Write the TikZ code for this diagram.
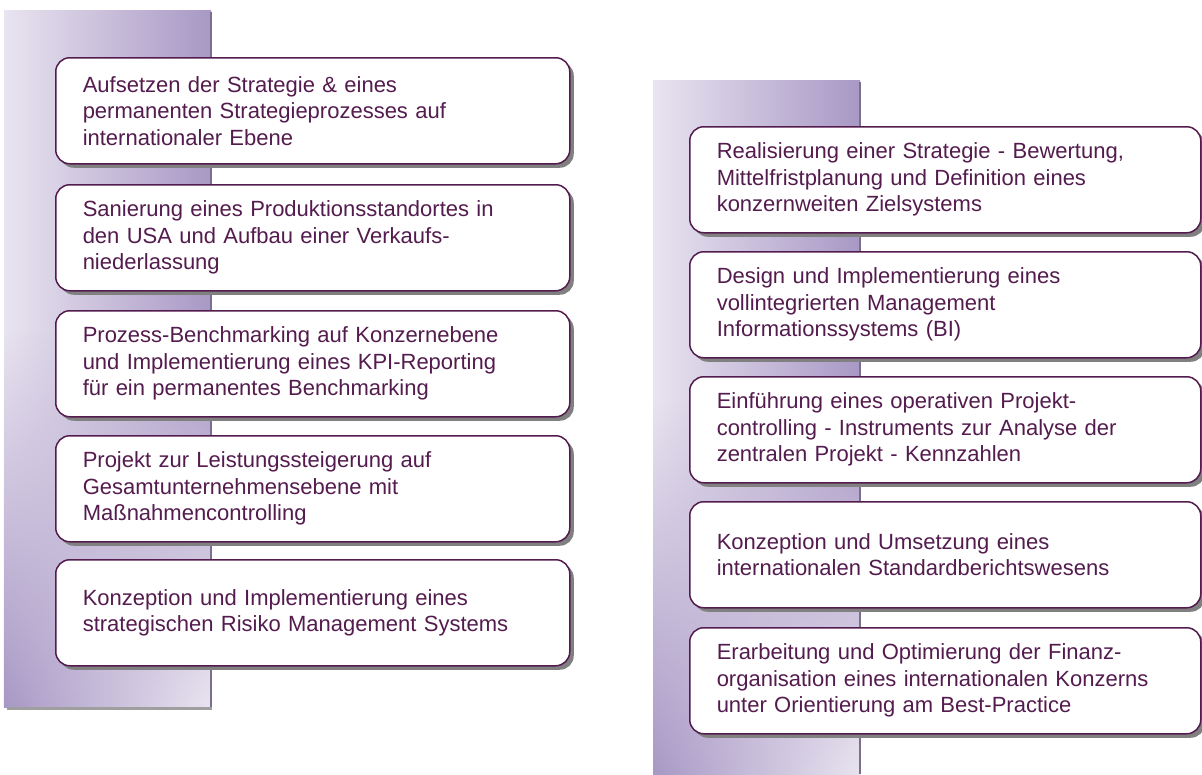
\documentclass[tikz,border=0pt]{standalone}
\usepackage{fontspec}
\setmainfont{Liberation Sans}
\usetikzlibrary{shadows,fadings}
\definecolor{ink}{RGB}{84,28,78}
\definecolor{barL}{RGB}{233,228,240}
\definecolor{barD}{RGB}{168,152,197}
\definecolor{barEdge}{RGB}{120,112,140}
\definecolor{shadowgray}{RGB}{128,128,128}
\tikzfading[name=fadeup, top color=transparent!100, bottom color=transparent!0]
\begin{document}
\begin{tikzpicture}[x=1pt,y=-1pt,
  itembox/.style={draw=ink, line width=1.5pt, fill=white, rounded corners=14pt,
    drop shadow={shadow xshift=4pt, shadow yshift=-4pt, fill=shadowgray, opacity=1},
    text=ink, font=\fontsize{22}{26.5}\selectfont, align=left, anchor=north west,
    inner xsep=27pt, inner ysep=0pt, minimum height=106pt},
  leftbox/.style={itembox, minimum width=514pt, text width=460pt},
  rightbox/.style={itembox, minimum width=511pt, text width=457pt},
]
\useasboundingbox (0,0) rectangle (1202,774);
% left bar
\shade[left color=barL, right color=barD] (4,10) rectangle (211,707);
\shade[left color=barD, right color=barL, path fading=fadeup] (4,330) rectangle (211,707);
\draw[barEdge, line width=1.5pt] (211,12) -- (211,708);
\draw[gray!75, line width=3pt] (7,708.5) -- (212,708.5);
% right bar
\shade[left color=barL, right color=barD] (653,80) rectangle (860,774);
\shade[left color=barD, right color=barL, path fading=fadeup] (653,400) rectangle (860,774);
\draw[barEdge, line width=1.5pt] (860,82) -- (860,774);
% left boxes
\node[leftbox] (l1) at (55,57) {Aufsetzen der Strategie \& eines\\permanenten Strategieprozesses auf\\internationaler Ebene};
\node[leftbox] (l2) at (55,184) {Sanierung eines Produktionsstandortes in\\den USA und Aufbau einer Verkaufs-\\niederlassung};
\node[leftbox] (l3) at (55,310) {Prozess-Benchmarking auf Konzernebene\\und Implementierung eines KPI-Reporting\\für ein permanentes Benchmarking};
\node[leftbox] (l4) at (55,435) {Projekt zur Leistungssteigerung auf\\Gesamtunternehmensebene mit\\Maßnahmencontrolling};
\node[leftbox] (l5) at (55,559) {Konzeption und Implementierung eines\\strategischen Risiko Management Systems};
% right boxes
\node[rightbox] (r1) at (689,126) {Realisierung einer Strategie - Bewertung,\\Mittelfristplanung und Definition eines\\konzernweiten Zielsystems};
\node[rightbox] (r2) at (689,251) {Design und Implementierung eines\\vollintegrierten Management\\Informationssystems (BI)};
\node[rightbox] (r3) at (689,376) {Einführung eines operativen Projekt-\\controlling - Instruments zur Analyse der\\zentralen Projekt - Kennzahlen};
\node[rightbox] (r4) at (689,501) {Konzeption und Umsetzung eines\\internationalen Standardberichtswesens};
\node[rightbox] (r5) at (689,627) {Erarbeitung und Optimierung der Finanz-\\organisation eines internationalen Konzerns\\unter Orientierung am Best-Practice};
\end{tikzpicture}
\end{document}
